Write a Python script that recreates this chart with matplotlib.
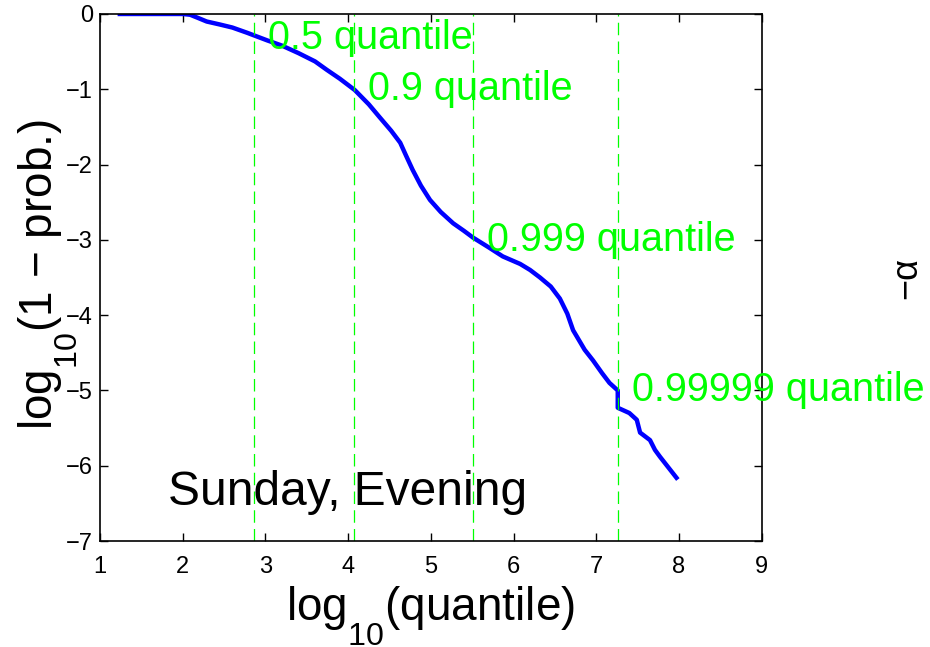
import matplotlib
matplotlib.use("Agg")
import matplotlib.pyplot as plt

plt.rcParams["font.family"] = ["Liberation Sans", "DejaVu Sans"]
plt.rcParams["mathtext.fontset"] = "custom"
plt.rcParams["mathtext.rm"] = "Liberation Sans"
plt.rcParams["mathtext.it"] = "Liberation Sans:italic"
try:
    # MATLAB drops its subscripts fully below the baseline
    import matplotlib._mathtext as _mt
    _mt.FontConstantsBase.sub1 = 1.0
except Exception:
    pass

# tail curve (log10 quantile, log10(1 - prob))
logq = [1.24, 1.6, 2.0, 2.09, 2.18, 2.29, 2.45, 2.6, 2.78, 3.02, 3.2, 3.4, 3.6, 3.74, 3.9,
        4.08, 4.25, 4.38, 4.52, 4.63, 4.7, 4.78, 4.88, 4.99, 5.12, 5.27, 5.4, 5.51, 5.7,
        5.87, 6.08, 6.2, 6.32, 6.45, 6.56, 6.65, 6.72, 6.86, 6.96, 7.07, 7.16, 7.26, 7.26,
        7.40, 7.49, 7.53, 7.65, 7.71, 7.77, 7.97]
logp = [0.0, 0.0, 0.0, -0.01, -0.05, -0.1, -0.14, -0.18, -0.25, -0.35, -0.42, -0.52, -0.63,
        -0.74, -0.86, -1.01, -1.2, -1.37, -1.55, -1.71, -1.88, -2.07, -2.28, -2.47, -2.63,
        -2.78, -2.88, -2.97, -3.1, -3.22, -3.32, -3.4, -3.5, -3.62, -3.78, -3.98, -4.2,
        -4.46, -4.6, -4.77, -4.9, -5.0, -5.23, -5.30, -5.39, -5.56, -5.66, -5.79, -5.88, -6.16]

# quantile markers
qlabels = ["0.5 quantile", "0.9 quantile", "0.999 quantile", "0.99999 quantile"]
qpos = [2.86, 4.07, 5.51, 7.26]
qlevel = [-0.32, -1.0, -3.0, -5.0]

fig = plt.figure(figsize=(9.3, 6.47), dpi=100)
ax = fig.add_axes([0.1075, 0.1638, 0.7115, 0.8146])

ax.plot(logq, logp, color="blue", lw=3.2)
for q, lev, lab in zip(qpos, qlevel, qlabels):
    ax.axvline(q, color="#00ff00", lw=0.9, ls=(0, (10, 5)))
    ax.text(q + 0.17, lev, lab, color="#00ff00", fontsize=28.5, va="center", ha="left",
            clip_on=False)

ax.text(1.82, -6.35, "Sunday, Evening", fontsize=34.5, va="center", ha="left")

ax.set_xlim(1, 9)
ax.set_ylim(-7, 0)
ax.set_xticks(range(1, 10))
ax.set_yticks(range(-7, 1))
ax.set_yticklabels(["\u22127", "\u22126", "\u22125", "\u22124", "\u22123", "\u22122", "\u22121", "0"])
ax.tick_params(direction="in", top=True, right=True, labelsize=17, length=6, width=1, pad=5)
ax.tick_params(axis="x", pad=11)
for s in ax.spines.values():
    s.set_linewidth(1.2)

ax.set_xlabel("log$_{10}$(quantile)", fontsize=33)
ax.xaxis.label.set_va("baseline")
ax.xaxis.set_label_coords(0.5, -0.150)
ax.set_ylabel("log$_{10}$(1 \u2212 prob.)", fontsize=33)
ax.yaxis.label.set_va("baseline")
ax.yaxis.set_label_coords(-0.0725, 0.505)

fig.text(0.975, 0.57, "\u2212\u03b1", rotation=90, fontsize=26, ha="center", va="center")

fig.savefig("out.png", dpi=100)
